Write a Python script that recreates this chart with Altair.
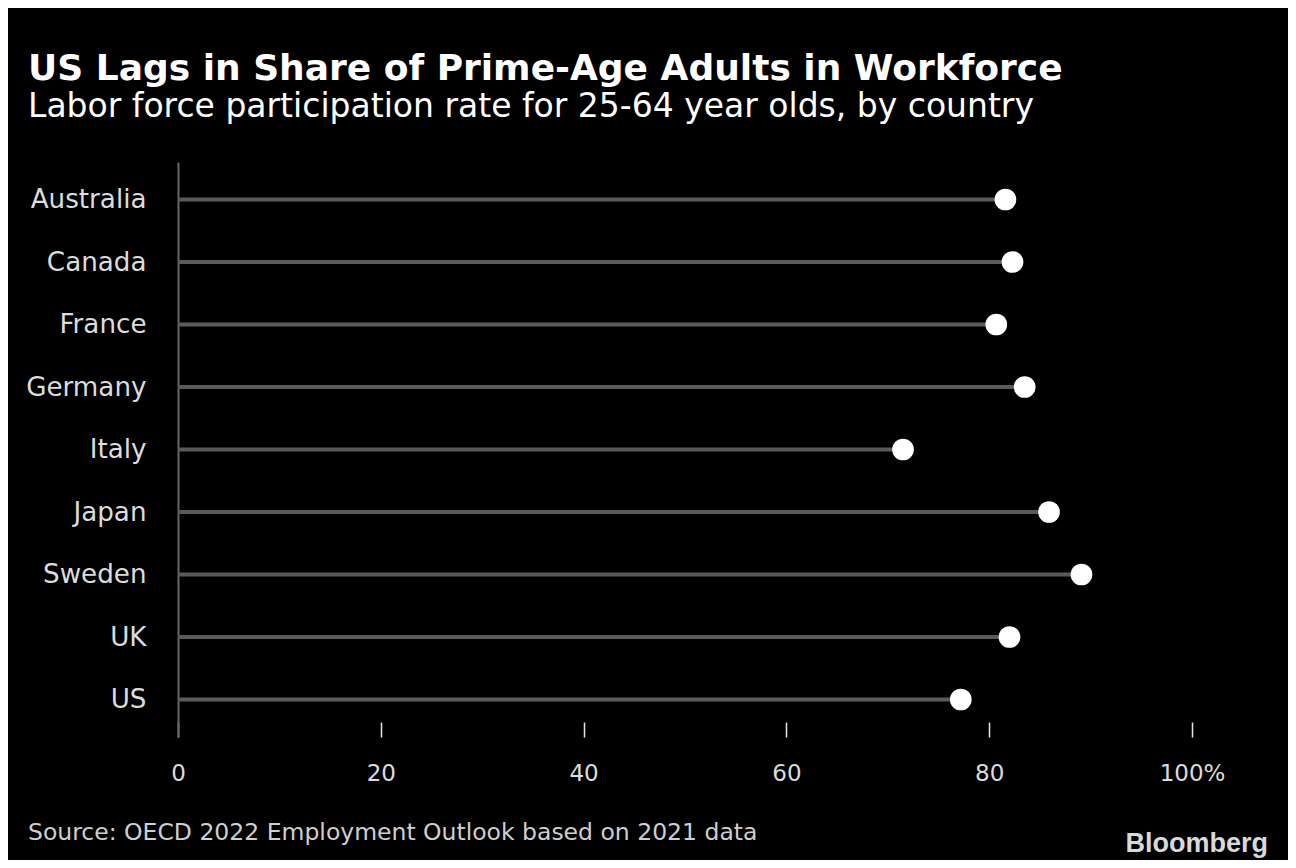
import altair as alt
import pandas as pd

countries = ["Australia", "Canada", "France", "Germany", "Italy", "Japan", "Sweden", "UK", "US"]
rates = [81.6, 82.3, 80.7, 83.5, 71.5, 85.9, 89.1, 82.0, 77.2]
x_ticks = [0, 20, 40, 60, 80, 100]

title_text = "US Lags in Share of Prime-Age Adults in Workforce"
subtitle_text = "Labor force participation rate for 25-64 year olds, by country"
source_text = "Source: OECD 2022 Employment Outlook based on 2021 data"
brand_text = "Bloomberg"

df = pd.DataFrame({"country": countries, "rate": rates, "zero": [0] * len(countries)})

FONT = "DejaVu Sans"
W, H = 1014, 575

x_enc = alt.X(
    "rate:Q",
    scale=alt.Scale(domain=[0, 100], nice=False),
    axis=alt.Axis(
        values=x_ticks,
        labelExpr="datum.value == 100 ? '100%' : datum.label",
        title=None,
        grid=False,
        domain=False,
        ticks=True,
        tickSize=15,
        tickColor="#e6e6e6",
        tickWidth=1.5,
        offset=-15,
        labelFlush=False,
        labelPadding=25,
        labelFont=FONT,
        labelFontSize=23,
        labelColor="#dcdcdc",
    ),
)
y_enc = alt.Y(
    "country:N",
    sort=countries,
    scale=alt.Scale(type="point", padding=0.6),
    axis=alt.Axis(
        title=None,
        ticks=False,
        grid=False,
        domain=True,
        domainColor="#666666",
        domainWidth=2,
        labelPadding=32,
        labelFont=FONT,
        labelFontSize=26.2,
        labelColor="#dcdcdc",
    ),
)

base = alt.Chart(df)

stems = base.mark_rule(color="#5a5a5a", strokeWidth=4).encode(
    x=alt.X("zero:Q", scale=alt.Scale(domain=[0, 100], nice=False)),
    x2="rate:Q",
    y=y_enc,
)

dots = base.mark_circle(color="white", opacity=1, size=470).encode(
    x=x_enc,
    y=alt.Y("country:N", sort=countries),
)

src = alt.Chart(pd.DataFrame({"t": [source_text]})).mark_text(
    align="left", baseline="alphabetic", font=FONT, fontSize=23.5, color="#cfcfcf"
).encode(text="t:N", x=alt.value(-150), y=alt.value(678))

brand = alt.Chart(pd.DataFrame({"t": [brand_text]})).mark_text(
    align="right", baseline="alphabetic", font="Liberation Sans", fontSize=27, fontWeight="bold",
    color="#d9d9d9"
).encode(text="t:N", x=alt.value(1090), y=alt.value(690))

chart = (
    alt.layer(stems, dots, src, brand)
    .properties(
        width=W,
        height=H,
        padding={"left": 170, "top": 154, "right": 96, "bottom": 123},
        autosize=alt.AutoSizeParams(type="none"),
        background="black",
        title=alt.TitleParams(
            text=title_text,
            subtitle=subtitle_text,
            anchor="start",
            frame="group",
            dx=-150,
            offset=37,
            font=FONT,
            fontSize=36,
            fontWeight="bold",
            color="white",
            subtitleFont=FONT,
            subtitleFontSize=33,
            subtitleColor="white",
            subtitlePadding=3,
        ),
    )
    .configure_view(stroke=None)
)

chart.save("out.html", embed_options={"renderer": "svg", "actions": False})
